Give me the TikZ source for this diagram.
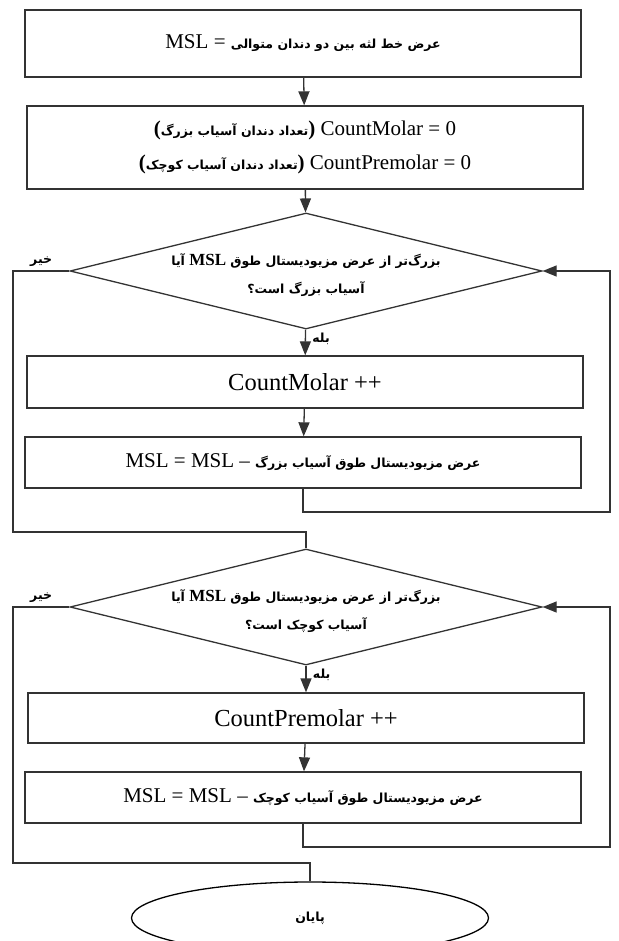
\documentclass[tikz,border=0pt]{standalone}
\usepackage{fontspec}
\setmainfont{Liberation Serif}
\newfontfamily\fa[Script=Arabic]{DejaVu Sans}
\TeXXeTstate=1
\usetikzlibrary{shapes.geometric,arrows.meta}
% Persian text, bold, right to left
\newcommand{\fab}[1]{{\fa\bfseries\fontsize{12.5}{14}\selectfont\beginR #1\endR}}
\newcommand{\fapar}[1]{{\bfseries(}\fab{#1}{\bfseries)}}
\tikzset{
  stepbox/.style={draw=black!80, line width=1.3pt, minimum width=556pt, inner sep=0pt, align=center, font=\fontsize{21}{34}\selectfont},
  decision/.style={draw=black!80, line width=1.3pt, diamond, aspect=4.07, minimum width=472pt, minimum height=116pt, inner sep=0pt},
  asktext/.style={align=center, inner sep=0pt, font=\fontsize{17}{28}\selectfont},
  flow/.style={draw=black!80, line width=1.3pt, -{Triangle[length=14pt,width=11pt]}},
  wire/.style={draw=black!80, line width=1.3pt},
}
\begin{document}
\begin{tikzpicture}[x=1pt,y=-1pt]
\useasboundingbox (0,0) rectangle (618,941);
\node[stepbox, minimum height=67pt] (msl) at (303,43.5) {MSL = \fab{عرض خط لثه بین دو دندان متوالی}};
\node[stepbox, minimum height=83pt] (init) at (305,147.5) {\fapar{تعداد دندان آسیاب بزرگ} CountMolar = 0\\ \fapar{تعداد دندان آسیاب کوچک} CountPremolar = 0};
\node[decision] (q1) at (306,271) {};
\node[asktext] (q1text) at (306,275) {\fab{آیا} \textbf{MSL} \fab{بزرگ‌تر از عرض مزیودیستال طوق}\\ \fab{آسیاب بزرگ است؟}};
\node[stepbox, minimum height=52pt, font=\fontsize{24.5}{28}\selectfont] (addmolar) at (305,382) {CountMolar ++};
\node[stepbox, minimum height=51pt] (submolar) at (303,462.5) {MSL = MSL -- \fab{عرض مزیودیستال طوق آسیاب بزرگ}};
\node[decision] (q2) at (306,607) {};
\node[asktext] (q2text) at (306,611) {\fab{آیا} \textbf{MSL} \fab{بزرگ‌تر از عرض مزیودیستال طوق}\\ \fab{آسیاب کوچک است؟}};
\node[stepbox, minimum height=50pt, font=\fontsize{24.5}{28}\selectfont] (addpre) at (306,718) {CountPremolar ++};
\node[stepbox, minimum height=51pt] (subpre) at (303,797.5) {MSL = MSL -- \fab{عرض مزیودیستال طوق آسیاب کوچک}};
\node[draw=black, line width=1.3pt, ellipse, minimum width=357pt, minimum height=72pt] (stop) at (310,918) {\fab{پایان}};

\coordinate (back1) at (610,512);
\coordinate (no1) at (13,271);
\coordinate (no1b) at (13,532);
\coordinate (back2) at (610,847);
\coordinate (no2) at (13,607);
\coordinate (no2b) at (13,863);

\draw[flow] (msl) -- (init);
\draw[flow] (init) -- (q1);
\draw[flow] (q1) -- node[pos=0.35, right, xshift=3pt] {\fab{بله}} (addmolar);
\draw[flow] (addmolar) -- (submolar);
\draw[flow] (submolar.south) |- (back1) |- (q1.east);
\draw[wire] (q1.west) -- node[above] {\fab{خیر}} (no1) -- (no1b) -| (q2.north);
\draw[flow] (q2) -- node[pos=0.35, right, xshift=3pt] {\fab{بله}} (addpre);
\draw[flow] (addpre) -- (subpre);
\draw[flow] (subpre.south) |- (back2) |- (q2.east);
\draw[wire] (q2.west) -- node[above] {\fab{خیر}} (no2) -- (no2b) -| (stop.north);
\end{tikzpicture}
\end{document}
